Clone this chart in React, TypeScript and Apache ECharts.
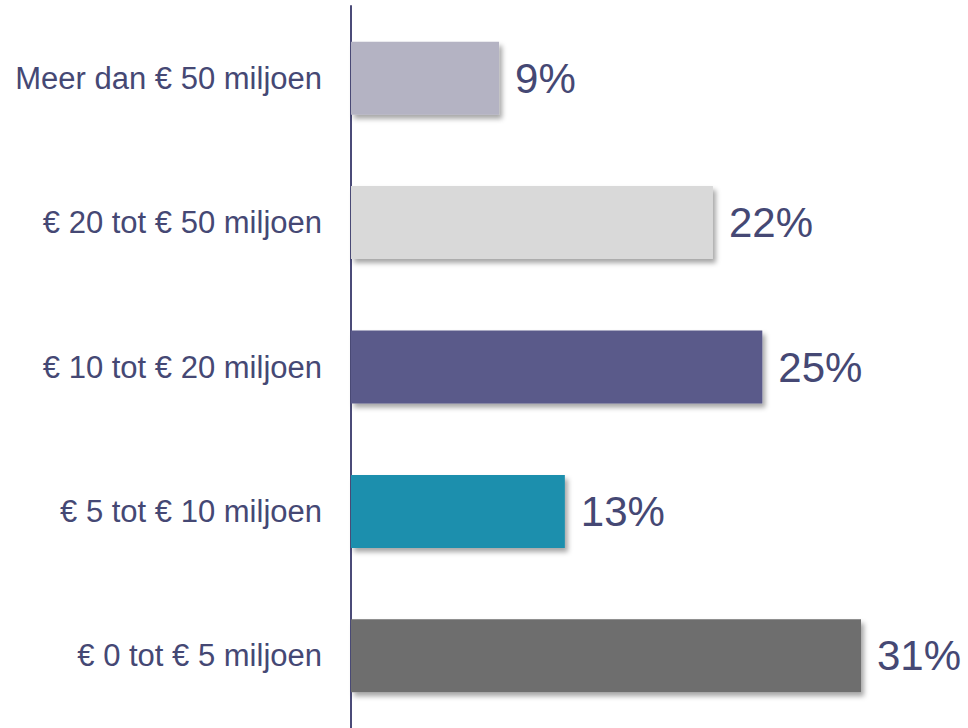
import React, { useEffect, useRef } from "react";
import * as echarts from "echarts";

const categories = [
  "€ 0 tot € 5 miljoen",
  "€ 5 tot € 10 miljoen",
  "€ 10 tot € 20 miljoen",
  "€ 20 tot € 50 miljoen",
  "Meer dan € 50 miljoen",
];
const values = [31, 13, 25, 22, 9];
const barColors = ["#6E6E6E", "#1F8FAD", "#5A5A8A", "#D9D9D9", "#B4B3C3"];

export default function App() {
  const ref = useRef<HTMLDivElement>(null);
  useEffect(() => {
    if (!ref.current) return;
    const chart = echarts.init(ref.current, null, { renderer: "svg" });
    chart.setOption({
      animation: false,
      grid: { left: 351, top: 6, width: 510, height: 724 },
      xAxis: {
        type: "value",
        min: 0,
        max: 31,
        show: false,
      },
      yAxis: {
        type: "category",
        data: categories,
        axisLine: { show: true, lineStyle: { color: "#4B4B78", width: 2 } },
        axisTick: { show: false },
        axisLabel: {
          color: "#454874",
          fontFamily: "Liberation Sans, Arial, sans-serif",
          fontSize: 31,
          margin: 29,
        },
      },
      series: [
        {
          type: "bar",
          data: values.map((v, i) => ({ value: v, itemStyle: { color: barColors[i] } })),
          barWidth: 73,
          itemStyle: {
            shadowColor: "rgba(0,0,0,0.35)",
            shadowBlur: 5,
            shadowOffsetX: 3,
            shadowOffsetY: 4,
          },
          label: {
            show: true,
            position: "right",
            distance: 16,
            formatter: "{c}%",
            color: "#454874",
            fontFamily: "Liberation Sans, Arial, sans-serif",
            fontSize: 42,
          },
        },
      ],
    });
    return () => chart.dispose();
  }, []);
  return <div ref={ref} style={{ width: 968, height: 728, position: "absolute", left: 0, top: 0 }} />;
}
